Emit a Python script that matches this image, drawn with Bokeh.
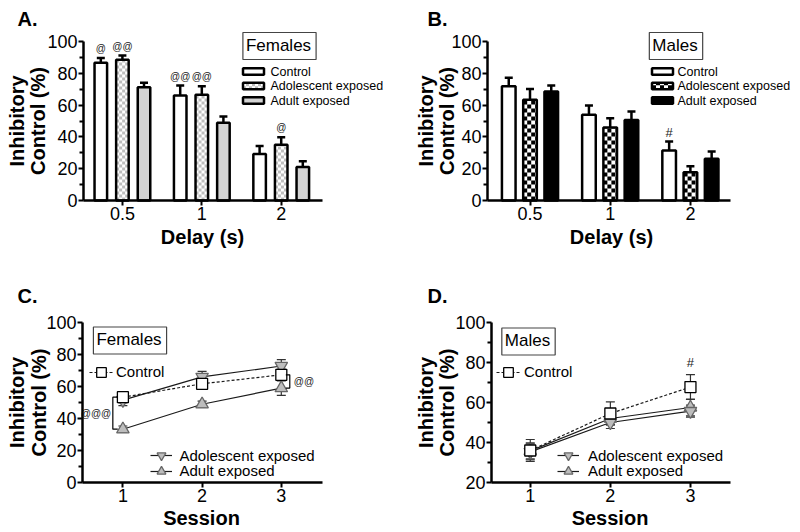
import math
from bokeh.plotting import figure
from bokeh.models import (ColumnDataSource, Whisker, TeeHead, Label, Legend, LegendItem,
                          FixedTicker, Range1d)
from bokeh.layouts import column, row
from bokeh.core.properties import value
from bokeh.embed import file_html
from bokeh.resources import INLINE

FONT = "Liberation Sans"

# ---------------- data ----------------
delay_labels = ["0.5", "1", "2"]
session_labels = ["1", "2", "3"]
group_names = ["Control", "Adolescent exposed", "Adult exposed"]

# Panel A - Females, bars
fem_bar_ctrl = [86.6, 66.0, 29.3]
fem_bar_ctrl_err = [3.1, 6.3, 4.9]
fem_bar_adol = [88.5, 66.5, 35.0]
fem_bar_adol_err = [2.7, 5.4, 4.8]
fem_bar_adult = [71.3, 48.9, 21.0]
fem_bar_adult_err = [2.7, 3.9, 3.7]
fem_bar_ctrl_marks = ["@", "@@", ""]
fem_bar_adol_marks = ["@@", "@@", "@"]
fem_bar_adult_marks = ["", "", ""]

# Panel B - Males, bars
male_bar_ctrl = [71.9, 53.9, 31.4]
male_bar_ctrl_err = [5.3, 5.8, 5.7]
male_bar_adol = [63.3, 45.9, 17.8]
male_bar_adol_err = [6.9, 5.9, 3.8]
male_bar_adult = [68.5, 50.7, 26.2]
male_bar_adult_err = [3.8, 5.3, 4.6]
male_bar_ctrl_marks = ["", "", "#"]
male_bar_adol_marks = ["", "", ""]
male_bar_adult_marks = ["", "", ""]

# Panel C - Females, sessions
fem_ses_ctrl = [53.3, 61.7, 67.3]
fem_ses_ctrl_err = [3.5, 3.0, 3.5]
fem_ses_adol = [51.5, 66.0, 72.8]
fem_ses_adol_err = [3.5, 3.5, 4.0]
fem_ses_adult = [33.3, 48.9, 59.0]
fem_ses_adult_err = [2.0, 2.0, 4.5]

# Panel D - Males, sessions
male_ses_ctrl = [36.0, 54.5, 67.7]
male_ses_ctrl_err = [5.5, 5.8, 6.2]
male_ses_adol = [35.3, 50.0, 55.7]
male_ses_adol_err = [4.0, 3.0, 3.0]
male_ses_adult = [35.8, 52.0, 57.5]
male_ses_adult_err = [4.0, 3.0, 4.2]
male_ses_ctrl_marks = ["", "", "#"]

FIG_W, FIG_H = 400, 266
MARK_COLOR = "#222222"


class Panel:
    """A figure whose frame fills the whole canvas; axes are placed with fixed_location."""

    def __init__(self, origin, xcal, ycal, yticks, yminor, xlabels):
        ox, oy = origin
        self.ox, self.oy = ox, oy
        x0, px0, x1, px1 = xcal
        y0, py0, y1, py1 = ycal
        self.kx = (px1 - px0) / (x1 - x0)
        self.ky = (py0 - py1) / (y1 - y0)
        self.xs = x0 - (px0 - ox) / self.kx
        self.ye = y1 + (py1 - oy) / self.ky
        xe = self.xs + FIG_W / self.kx
        ys = self.ye - FIG_H / self.ky
        p = figure(width=FIG_W, height=FIG_H,
                   x_range=Range1d(self.xs, xe), y_range=Range1d(ys, self.ye),
                   output_backend="svg", toolbar_location=None, min_border=0,
                   min_border_left=0, min_border_right=0,
                   min_border_top=0, min_border_bottom=0)
        p.grid.visible = False
        p.outline_line_color = None
        p.background_fill_color = "white"
        p.border_fill_color = "white"
        for ax in (p.xaxis[0], p.yaxis[0]):
            ax.axis_line_width = 2.5
            ax.axis_line_color = "black"
            ax.major_tick_line_width = 2
            ax.minor_tick_line_width = 2
            ax.major_tick_in = 0
            ax.minor_tick_in = 0
            ax.major_tick_out = 5
            ax.major_label_text_font = FONT
            ax.major_label_text_font_size = "18px"
            ax.major_label_text_color = "black"
        xa = p.xaxis[0]
        xa.fixed_location = y0
        xa.bounds = (x0, x1)
        xa.ticker = FixedTicker(ticks=[1, 2, 3])
        xa.major_label_overrides = {i + 1: lab for i, lab in enumerate(xlabels)}
        xa.minor_tick_out = 0
        xa.major_label_standoff = 1
        ya = p.yaxis[0]
        ya.fixed_location = x0
        ya.bounds = (y0, y1)
        ya.ticker = FixedTicker(ticks=yticks, minor_ticks=yminor)
        ya.minor_tick_out = 4
        ya.major_label_standoff = 1
        self.p = p

    # page pixel -> data
    def X(self, px):
        return self.xs + (px - self.ox) / self.kx

    def Y(self, py):
        return self.ye - (py - self.oy) / self.ky

    # data -> page pixel
    def PX(self, x):
        return self.ox + (x - self.xs) * self.kx

    def PY(self, y):
        return self.oy + (self.ye - y) * self.ky

    def text(self, px, py, txt, size, bold=False, align="left", baseline="alphabetic",
             angle=0.0, color="black", **kw):
        lab = Label(x=px - self.ox, y=self.oy + FIG_H - py, x_units="screen", y_units="screen",
                    text=txt, text_font=FONT, text_font_size=size,
                    text_font_style="bold" if bold else "normal",
                    text_align=align, text_baseline=baseline, angle=angle,
                    text_color=color, **kw)
        self.p.add_layout(lab)
        return lab

    def legend_item(self, renderers, label, left_px, center_py, glyph, standoff, size):
        leg = Legend(items=[LegendItem(label=label, renderers=renderers)],
                     location=(left_px - self.ox, self.oy + FIG_H - center_py - glyph / 2),
                     orientation="vertical", padding=0, margin=0, spacing=0,
                     border_line_color=None, background_fill_alpha=0,
                     glyph_width=glyph, glyph_height=glyph,
                     label_standoff=standoff, label_height=glyph,
                     label_text_font=FONT, label_text_font_size=size,
                     label_text_color="black")
        self.p.add_layout(leg)

    def checker(self, left, right, top, bottom, cell, color):
        """Draw a checkerboard texture (cells of `cell` px) inside a pixel rectangle."""
        L, R, T, B = [], [], [], []
        ncol = int(math.ceil((right - left) / cell))
        nrow = int(math.ceil((bottom - top) / cell))
        for i in range(ncol):
            for j in range(nrow):
                if (i + j) % 2:
                    continue
                l = left + i * cell
                r = min(l + cell, right)
                b = bottom - j * cell
                t = max(b - cell, top)
                L.append(self.X(l)); R.append(self.X(r))
                T.append(self.Y(t)); B.append(self.Y(b))
        self.p.quad(left=L, right=R, top=T, bottom=B, fill_color=color, line_color=None)


def bar_panel(panel, series, errs, marks, fills, checker_cfg, bar_w, offs, leg_cfg,
              title, title_pos, mark_size):
    p = panel.p
    cell, ccol = checker_cfg
    for k, (vals, err, mk, fc) in enumerate(zip(series, errs, marks, fills)):
        xs = [i + 1 + offs[k] for i in range(len(vals))]
        src = ColumnDataSource(dict(x=xs, top=vals,
                                    upper=[v + e for v, e in zip(vals, err)],
                                    mark_y=[v + e + 5.8 for v, e in zip(vals, err)],
                                    mark=mk))
        w = Whisker(source=src, base="x", lower="top", upper="upper", dimension="height",
                    line_width=2.5, line_color="black",
                    upper_head=TeeHead(size=8, line_width=2.5, line_color="black"),
                    lower_head=None)
        p.add_layout(w)
        p.vbar(x="x", top="top", bottom=0, width=bar_w, source=src,
               fill_color="white" if fc is None else fc, line_color=None)
        if fc is None:  # checkered bars
            for xc, v in zip(xs, vals):
                panel.checker(panel.PX(xc - bar_w / 2), panel.PX(xc + bar_w / 2),
                              panel.PY(v), panel.PY(0), cell, ccol)
        p.vbar(x="x", top="top", bottom=0, width=bar_w, source=src, fill_alpha=0,
               line_color="black", line_width=2.5)
        p.text(x="x", y="mark_y", text="mark", source=src, text_font=value(FONT),
               text_font_size=mark_size, text_align="center", text_baseline="middle",
               text_color=MARK_COLOR)
    # legend (drawn by hand so that the checker texture can be shown)
    lx, ly0, dy, tx = leg_cfg
    pw, ph = 21, 6.5
    for k, fc in enumerate(fills):
        cy = ly0 + k * dy
        l, r, t, b = lx, lx + pw, cy - ph / 2, cy + ph / 2
        p.quad(left=[panel.X(l)], right=[panel.X(r)], top=[panel.Y(t)], bottom=[panel.Y(b)],
               fill_color="white" if fc is None else fc, line_color=None)
        if fc is None:
            panel.checker(l, r, t, b, cell, ccol)
        p.quad(left=[panel.X(l)], right=[panel.X(r)], top=[panel.Y(t)], bottom=[panel.Y(b)],
               fill_alpha=0, line_color="black", line_width=2.5)
        p.text(x=[panel.X(tx)], y=[panel.Y(cy)], text=[group_names[k]], text_font=value(FONT),
               text_font_size="12.5px", text_align="left", text_baseline="middle",
               text_color="black")
    bx, by = title_pos
    panel.text(bx, by, title, "17px", align="center", baseline="middle",
               border_line_color="#444444", border_line_width=1.2,
               background_fill_color="white", padding=(3, 5, 3, 5))


# baseline correction for "alphabetic" labels
BL = 6

# ---------------- Panel A ----------------
A = Panel((0, 0), (0.51, 83, 3.52, 322), (0, 200, 100, 41),
          [0, 20, 40, 60, 80, 100], [10, 30, 50, 70, 90], delay_labels)
bar_panel(A, [fem_bar_ctrl, fem_bar_adol, fem_bar_adult],
          [fem_bar_ctrl_err, fem_bar_adol_err, fem_bar_adult_err],
          [fem_bar_ctrl_marks, fem_bar_adol_marks, fem_bar_adult_marks],
          ["white", None, "#d3d3d3"], (3, "#bdbdbd"),
          0.158, [-0.272, 0.0, 0.272], (242.5, 71, 14.5, 270), "Females", (279, 45.5), "10px")
A.text(17, 24 - BL, "A.", "20px", bold=True)
A.text(22.5 - BL, 120.5, "Inhibitory", "20px", bold=True, align="center", angle=math.pi / 2)
A.text(43.5 - BL, 120.5, "Control (%)", "20px", bold=True, align="center", angle=math.pi / 2)
A.text(202, 242 - BL, "Delay (s)", "20px", bold=True, align="center")

# ---------------- Panel B ----------------
B = Panel((400, 0), (0.47, 487, 3.5, 730), (0, 200, 100, 41),
          [0, 20, 40, 60, 80, 100], [10, 30, 50, 70, 90], delay_labels)
bar_panel(B, [male_bar_ctrl, male_bar_adol, male_bar_adult],
          [male_bar_ctrl_err, male_bar_adol_err, male_bar_adult_err],
          [male_bar_ctrl_marks, male_bar_adol_marks, male_bar_adult_marks],
          ["white", None, "black"], (4, "black"),
          0.17, [-0.265, 0.0, 0.265], (651.5, 71, 14.5, 677), "Males", (675.5, 45.5), "13px")
B.text(427, 24 - BL, "B.", "20px", bold=True)
B.text(431 - BL, 120.5, "Inhibitory", "20px", bold=True, align="center", angle=math.pi / 2)
B.text(452 - BL, 120.5, "Control (%)", "20px", bold=True, align="center", angle=math.pi / 2)
B.text(611, 242 - BL, "Delay (s)", "20px", bold=True, align="center")

# ---------------- line panels ----------------
TRI_FILL = "#bdbdbd"
TRI_LINE = "#666666"


def line_panel(panel, ctrl, ctrl_e, adol, adol_e, adult, adult_e, legend_cfg, title, title_pos):
    p = panel.p
    xs = [1, 2, 3]
    out = {}
    specs = [("adult", adult, adult_e, "triangle", TRI_FILL, TRI_LINE, "solid", 12.5),
             ("adol", adol, adol_e, "inverted_triangle", TRI_FILL, TRI_LINE, "solid", 12.5),
             ("ctrl", ctrl, ctrl_e, "square", "white", "black", "3 2", 11)]
    lines = {}
    for key, vals, err, mk, fc, lc, dash, sz in specs:
        src = ColumnDataSource(dict(x=xs, y=vals, lo=[v - e for v, e in zip(vals, err)],
                                    hi=[v + e for v, e in zip(vals, err)]))
        lines[key] = (p.line("x", "y", source=src, line_color="#1a1a1a", line_width=1.2,
                             line_dash=dash), src, mk, fc, lc, sz)
        w = Whisker(source=src, base="x", lower="lo", upper="hi", dimension="height",
                    line_width=1.2, line_color="#333333",
                    upper_head=TeeHead(size=9, line_width=1.2, line_color="#333333"),
                    lower_head=TeeHead(size=9, line_width=1.2, line_color="#333333"))
        p.add_layout(w)
    for key in ["adult", "adol", "ctrl"]:
        ln, src, mk, fc, lc, sz = lines[key]
        sc = p.scatter("x", "y", source=src, marker=mk, size=sz, fill_color=fc,
                       line_color=lc, line_width=1.3)
        out[key] = [ln, sc]
    (cx, cy, cst), (bx, by0, bdy, bst) = legend_cfg
    panel.legend_item(out["ctrl"], "Control", cx, cy, 24, cst, "15px")
    panel.legend_item(out["adol"], "Adolescent exposed", bx, by0, 22, bst, "15px")
    panel.legend_item(out["adult"], "Adult exposed", bx, by0 + bdy, 22, bst, "15px")
    tx, ty = title_pos
    panel.text(tx, ty, title, "17px", align="center", baseline="middle",
               border_line_color="#444444", border_line_width=1.2,
               background_fill_color="white", padding=(3, 5, 3, 5))
    return out


# ---------------- Panel C ----------------
C = Panel((0, 266), (0.49, 82, 3.52, 322), (0, 482, 100, 322),
          [0, 20, 40, 60, 80, 100], [10, 30, 50, 70, 90], session_labels)
line_panel(C, fem_ses_ctrl, fem_ses_ctrl_err, fem_ses_adol, fem_ses_adol_err,
           fem_ses_adult, fem_ses_adult_err,
           ((89, 371.7, 3), (149.5, 455, 15.5, 8)), "Females", (129.5, 340))
# significance brackets (derived from the data)
top1 = max(fem_ses_ctrl[0], fem_ses_adol[0])
bot1 = fem_ses_adult[0]
bx1 = 1 - 0.127
C.p.line([bx1 + 0.062, bx1, bx1, bx1 + 0.062], [top1, top1, bot1, bot1],
         line_color="black", line_width=1.2)
C.p.text(x=[bx1 - 0.02], y=[(top1 + bot1) / 2], text=["@@@"], text_font=value(FONT),
         text_font_size="10px", text_align="right", text_baseline="middle",
         text_color=MARK_COLOR)
top3 = fem_ses_ctrl[2]
bot3 = fem_ses_adult[2]
bx3 = 3 + 0.107
C.p.line([bx3 - 0.05, bx3, bx3, bx3 - 0.05], [top3, top3, bot3, bot3],
         line_color="black", line_width=1.2)
C.p.text(x=[bx3 + 0.05], y=[(top3 + bot3) / 2], text=["@@"], text_font=value(FONT),
         text_font_size="10px", text_align="left", text_baseline="middle",
         text_color=MARK_COLOR)
C.text(17, 301.7 - BL, "C.", "20px", bold=True)
C.text(22.5 - BL, 402, "Inhibitory", "20px", bold=True, align="center", angle=math.pi / 2)
C.text(44 - BL, 402, "Control (%)", "20px", bold=True, align="center", angle=math.pi / 2)
C.text(201, 523 - BL, "Session", "20px", bold=True, align="center")

# ---------------- Panel D ----------------
D = Panel((400, 266), (0.516, 491, 3.5, 730), (20, 482, 100, 322),
          [20, 40, 60, 80, 100], [30, 50, 70, 90], session_labels)
line_panel(D, male_ses_ctrl, male_ses_ctrl_err, male_ses_adol, male_ses_adol_err,
           male_ses_adult, male_ses_adult_err,
           ((496, 371.7, 4), (557, 455, 15.5, 9)), "Males", (528, 341))
D.p.text(x=[1, 2, 3], y=[v + e + 6 for v, e in zip(male_ses_ctrl, male_ses_ctrl_err)],
         text=male_ses_ctrl_marks, text_font=value(FONT), text_font_size="13px",
         text_align="center", text_baseline="middle", text_color=MARK_COLOR)
D.text(427, 301.7 - BL, "D.", "20px", bold=True)
D.text(431 - BL, 402, "Inhibitory", "20px", bold=True, align="center", angle=math.pi / 2)
D.text(452 - BL, 402, "Control (%)", "20px", bold=True, align="center", angle=math.pi / 2)
D.text(609.5, 523 - BL, "Session", "20px", bold=True, align="center")

layout = column(row(A.p, B.p), row(C.p, D.p))
open("out.html", "w").write(file_html(layout, INLINE))
